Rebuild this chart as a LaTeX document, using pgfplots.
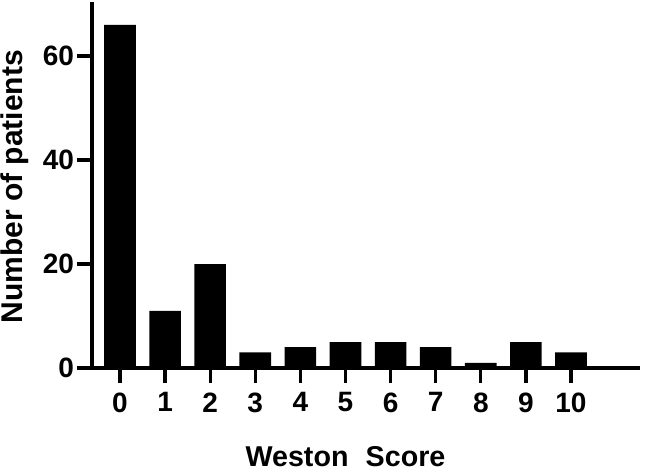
\documentclass[border=0pt]{standalone}
\usepackage{pgfplots}
\pgfplotsset{compat=1.18}
\usepackage{fontspec}
\setmainfont{Liberation Sans}
\begin{document}
\begin{tikzpicture}
\begin{axis}[
  name=ax,
  at={(0,0)}, anchor=south west,
  scale only axis,
  width=411pt, height=274.5pt,
  xmin=-0.62, xmax=11.53,
  ymin=0, ymax=70.4,
  axis x line=bottom, axis y line=left,
  axis line style={-, line width=3.5pt},
  tick align=outside,
  major tick length=11pt,
  every tick/.style={black, line width=2.5pt},
  xtick={0,1,2,3,4,5,6,7,8,9,10},
  ytick={0,20,40,60},
  /pgf/number format/assume math mode=true,
  tick label style={font=\bfseries\fontsize{21}{21}\selectfont},
  xticklabel style={yshift=-4pt},
  yticklabel style={xshift=1pt},
  ylabel={Number of patients},
  xlabel={Weston\hspace{0.6em}Score},
  every axis y label/.style={at={(axis description cs:0,0.495)}, xshift=-58pt, rotate=90, anchor=center, font=\bfseries\fontsize{22.5}{22.5}\selectfont},
  every axis x label/.style={at={(axis cs:5,0)}, yshift=-66.5pt, anchor=center, font=\bfseries\fontsize{21.5}{21.5}\selectfont},
  clip=false,
]
\addplot[ybar, bar width=23.7pt, fill=black, draw=none] coordinates {
  (0,66) (1,11) (2,20) (3,3) (4,4) (5,5) (6,5) (7,4) (8,1) (9,5) (10,3)
};
\end{axis}
\pgfresetboundingbox
\useasboundingbox (-69pt,-79.5pt) rectangle (415.5pt,276pt);
\end{tikzpicture}
\end{document}
